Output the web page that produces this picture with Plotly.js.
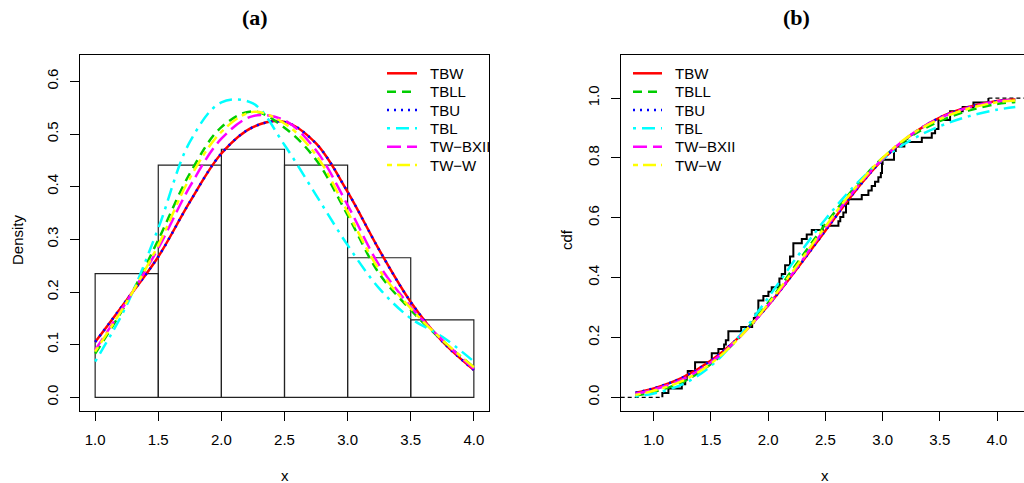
<!DOCTYPE html>
<html><head><meta charset="utf-8">
<script src="https://cdn.plot.ly/plotly-3.0.1.min.js"></script>
<style>html,body{margin:0;padding:0;background:#fff}#chart{width:1024px;height:483px}</style>
</head><body><div id="chart"></div>
<script>
// ---------------- data ----------------
const seriesNames = ["TBW", "TBLL", "TBU", "TBL", "TW\u2212BXII", "TW\u2212W"];

// histogram (panel a)
const histBreaks = [1.0, 1.5, 2.0, 2.5, 3.0, 3.5, 4.0];
const histDensity = [0.235, 0.441, 0.471, 0.441, 0.265, 0.147];

// fitted densities (panel a)
const densX     = [1.0, 1.25, 1.5, 1.75, 2.0, 2.25, 2.5, 2.75, 3.0, 3.25, 3.5, 3.75, 4.0];
const densTBW   = [0.105, 0.185, 0.267, 0.371, 0.463, 0.513, 0.523, 0.482, 0.390, 0.280, 0.181, 0.106, 0.052];
const densTBLL  = [0.083, 0.180, 0.299, 0.425, 0.513, 0.543, 0.512, 0.451, 0.346, 0.235, 0.166, 0.108, 0.057];
const densTBU   = [0.105, 0.185, 0.267, 0.371, 0.463, 0.513, 0.523, 0.482, 0.390, 0.280, 0.181, 0.106, 0.052];
const densTBL   = [0.068, 0.175, 0.321, 0.485, 0.560, 0.558, 0.479, 0.384, 0.289, 0.207, 0.150, 0.115, 0.068];
const densTWBXII= [0.090, 0.182, 0.283, 0.400, 0.491, 0.534, 0.526, 0.469, 0.365, 0.251, 0.172, 0.109, 0.054];
const densTWW   = [0.087, 0.181, 0.289, 0.416, 0.504, 0.542, 0.520, 0.460, 0.352, 0.242, 0.169, 0.109, 0.057];

// fitted cdfs (panel b)
const cdfX      = [0.84, 1.0, 1.25, 1.5, 1.75, 2.0, 2.25, 2.5, 2.75, 3.0, 3.25, 3.5, 3.75, 4.0, 4.16];
const cdfTBW    = [0.0155, 0.030, 0.066, 0.123, 0.203, 0.307, 0.429, 0.557, 0.684, 0.794, 0.877, 0.935, 0.970, 0.990, 0.995];
const cdfTBLL   = [0.005, 0.018, 0.051, 0.111, 0.201, 0.316, 0.447, 0.578, 0.699, 0.800, 0.873, 0.923, 0.958, 0.980, 0.987];
const cdfTBU    = [0.0155, 0.030, 0.066, 0.123, 0.203, 0.307, 0.429, 0.557, 0.684, 0.794, 0.877, 0.935, 0.970, 0.990, 0.995];
const cdfTBL    = [0.003, 0.013, 0.043, 0.105, 0.206, 0.333, 0.468, 0.595, 0.705, 0.795, 0.860, 0.906, 0.939, 0.961, 0.970];
const cdfTWBXII = [0.012, 0.026, 0.060, 0.117, 0.201, 0.308, 0.433, 0.565, 0.690, 0.797, 0.878, 0.933, 0.968, 0.989, 0.995];
const cdfTWW    = [0.008, 0.022, 0.055, 0.113, 0.200, 0.312, 0.440, 0.571, 0.695, 0.800, 0.878, 0.930, 0.965, 0.986, 0.992];

// empirical cdf (panel b): jump locations and number of observations at each
const ecdfN = 68;
const ecdfJumpX = [1.075, 1.128, 1.245, 1.275, 1.288, 1.297, 1.361,
  1.507, 1.565, 1.615, 1.630, 1.652, 1.764, 1.860, 1.875, 1.890, 1.914, 1.958,
  2.002, 2.031, 2.098, 2.119, 2.148, 2.191, 2.220, 2.294, 2.337, 2.381, 2.477,
  2.614, 2.630, 2.657, 2.680, 2.700, 2.818, 2.876, 2.905, 2.934, 2.963, 2.985, 2.995, 3.000,
  3.100, 3.115, 3.190, 3.343, 3.430, 3.459, 3.488,
  3.590, 3.700, 3.794, 3.925];
const ecdfJumpCount = [1, 1, 1, 1, 1, 1, 2,
  2, 1, 1, 1, 2, 1, 1, 1, 1, 3, 1,
  1, 1, 2, 1, 2, 2, 3, 1, 1, 1, 1,
  1, 1, 1, 2, 1, 1, 1, 1, 1, 1, 1, 2, 1,
  2, 1, 1, 1, 1, 1, 2,
  2, 1, 1, 1];

const xTicks  = [1.0, 1.5, 2.0, 2.5, 3.0, 3.5, 4.0];
const yTicksA = [0.0, 0.1, 0.2, 0.3, 0.4, 0.5, 0.6];
const yTicksB = [0.0, 0.2, 0.4, 0.6, 0.8, 1.0];

// ---------------- styles ----------------
const colors = ["#FF0000", "#00CD00", "#0000FF", "#00FFFF", "#FF00FF", "#FFFF00"];
const dashes = ["solid", "9px,6px", "2px,5px", "3px,6px,13px,6px", "14px,6px", "5px,5px,13px,5px"];
const lw = 2.5;
const W = 1024, H = 483;
const px = v => v / W, py = v => 1 - v / H;
const fontSans = "Liberation Sans, Arial, Helvetica, sans-serif";

const densSeries = [densTBW, densTBLL, densTBU, densTBL, densTWBXII, densTWW];
const cdfSeries  = [cdfTBW, cdfTBLL, cdfTBU, cdfTBL, cdfTWBXII, cdfTWW];

const traces = [];
// histogram bars
const centers = histDensity.map((_, i) => (histBreaks[i] + histBreaks[i + 1]) / 2);
const widths  = histDensity.map((_, i) => histBreaks[i + 1] - histBreaks[i]);
traces.push({type: "bar", x: centers, y: histDensity, width: widths, xaxis: "x", yaxis: "y",
  marker: {color: "rgba(0,0,0,0)", line: {color: "#222", width: 1.2}}, showlegend: false, hoverinfo: "skip"});

seriesNames.forEach((nm, i) => {
  traces.push({type: "scatter", mode: "lines", name: nm, x: densX, y: densSeries[i], xaxis: "x", yaxis: "y",
    line: {color: colors[i], dash: dashes[i], width: lw, shape: "spline", smoothing: 1}, showlegend: false});
});

// ECDF
const ecX = [ecdfJumpX[0]], ecY = [0];
let cum = 0;
ecdfJumpX.forEach((x, i) => { cum += ecdfJumpCount[i]; ecX.push(x); ecY.push(cum / ecdfN); });
traces.push({type: "scatter", mode: "lines", x: ecX, y: ecY, xaxis: "x2", yaxis: "y2",
  line: {color: "#000", width: 2, shape: "hv"}, showlegend: false});
const xr2 = [0.711, 4.236];
traces.push({type: "scatter", mode: "lines", x: [xr2[0], ecdfJumpX[0]], y: [0, 0], xaxis: "x2", yaxis: "y2",
  line: {color: "#000", width: 1.3, dash: "4px,3px"}, showlegend: false});
traces.push({type: "scatter", mode: "lines", x: [ecdfJumpX[ecdfJumpX.length - 1], xr2[1]], y: [1, 1], xaxis: "x2", yaxis: "y2",
  line: {color: "#000", width: 1.3, dash: "4px,3px"}, showlegend: false});

seriesNames.forEach((nm, i) => {
  traces.push({type: "scatter", mode: "lines", name: nm, x: cdfX, y: cdfSeries[i], xaxis: "x2", yaxis: "y2",
    line: {color: colors[i], dash: dashes[i], width: lw, shape: "spline", smoothing: 1}, showlegend: false});
});

// ---------------- layout ----------------
const yDom = [py(410.5), py(55)];
const axisCommon = {showgrid: false, zeroline: false, ticks: "outside", ticklen: 9, tickwidth: 1, tickcolor: "#000",
  showline: true, linecolor: "#000", linewidth: 1, tickfont: {family: fontSans, size: 15, color: "#000"}, tickformat: ".1f"};

const shapes = [], annotations = [];
const legRowY = [73.3, 91.7, 110, 128.3, 146.7, 165];
function addLegend(x0, x1, xt) {
  seriesNames.forEach((nm, i) => {
    shapes.push({type: "line", xref: "paper", yref: "paper", x0: px(x0), x1: px(x1), y0: py(legRowY[i]), y1: py(legRowY[i]),
      line: {color: colors[i], width: lw, dash: dashes[i]}});
    annotations.push({xref: "paper", yref: "paper", x: px(xt), y: py(legRowY[i]), xanchor: "left", yanchor: "middle",
      text: nm, showarrow: false, font: {family: fontSans, size: 15, color: "#000"}});
  });
}
addLegend(387, 417, 428);
addLegend(633, 662, 673);

const titleFont = {family: "Liberation Serif, Times New Roman, serif", size: 22, color: "#000"};
annotations.push({xref: "paper", yref: "paper", x: px(255), y: py(18), text: "<b>(a)</b>", showarrow: false, font: titleFont, xanchor: "center", yanchor: "middle"});
annotations.push({xref: "paper", yref: "paper", x: px(796), y: py(18), text: "<b>(b)</b>", showarrow: false, font: titleFont, xanchor: "center", yanchor: "middle"});
const labFont = {family: fontSans, size: 15, color: "#000"};
annotations.push({xref: "paper", yref: "paper", x: px(17), y: py(240), text: "Density", textangle: -90, showarrow: false, font: labFont, xanchor: "center", yanchor: "middle"});
annotations.push({xref: "paper", yref: "paper", x: px(566), y: py(240), text: "cdf", textangle: -90, showarrow: false, font: labFont, xanchor: "center", yanchor: "middle"});
annotations.push({xref: "paper", yref: "paper", x: px(284.5), y: py(475), text: "x", showarrow: false, font: labFont, xanchor: "center", yanchor: "middle"});
annotations.push({xref: "paper", yref: "paper", x: px(825), y: py(475), text: "x", showarrow: false, font: labFont, xanchor: "center", yanchor: "middle"});

const layout = {
  width: W, height: H, margin: {l: 0, r: 0, t: 0, b: 0}, paper_bgcolor: "#fff", plot_bgcolor: "#fff",
  showlegend: false, barmode: "overlay",
  xaxis: Object.assign({}, axisCommon, {domain: [px(80), px(489)], range: [0.88, 4.12], tickvals: xTicks, anchor: "y", mirror: true, ticklabelstandoff: 6}),
  yaxis: Object.assign({}, axisCommon, {domain: yDom, range: [-0.025, 0.65], tickvals: yTicksA, anchor: "x", mirror: true, tickangle: -90, ticklabelstandoff: 6}),
  xaxis2: Object.assign({}, axisCommon, {domain: [px(620.7), 1], range: xr2, tickvals: xTicks, anchor: "y2", mirror: true, ticklabelstandoff: 6}),
  yaxis2: Object.assign({}, axisCommon, {domain: yDom, range: [-0.044, 1.144], tickvals: yTicksB, anchor: "x2", mirror: false, tickangle: -90, ticklabelstandoff: 6}),
  shapes: shapes, annotations: annotations
};

Plotly.newPlot("chart", traces, layout, {staticPlot: true, displayModeBar: false});
</script></body></html>
